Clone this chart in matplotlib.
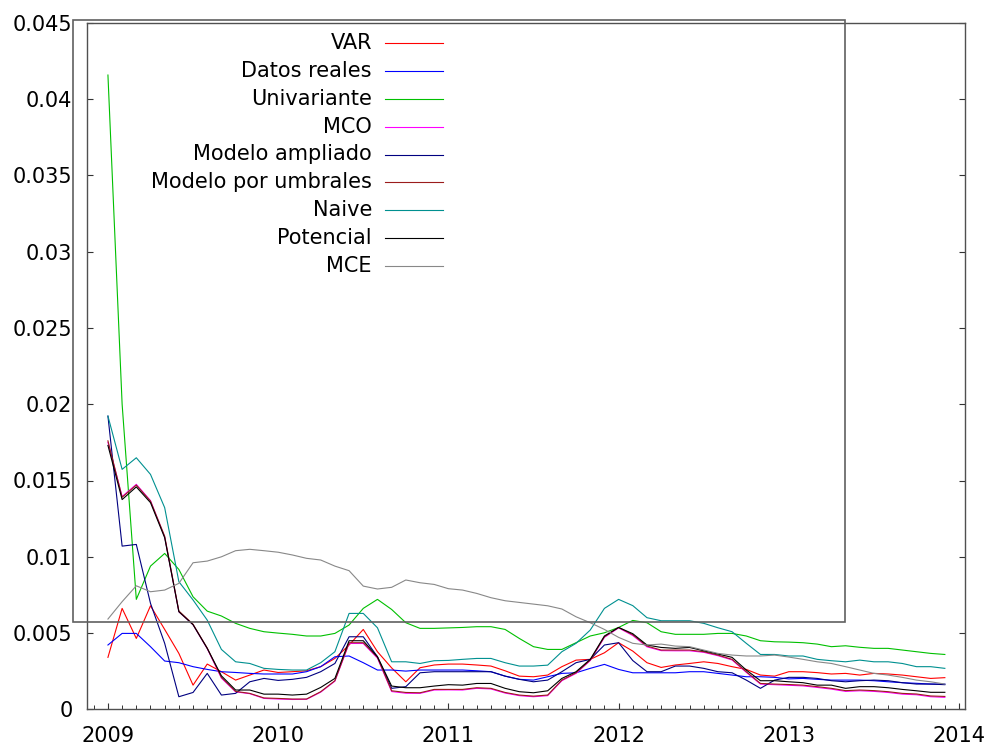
import matplotlib
matplotlib.use("Agg")
import matplotlib.pyplot as plt
from matplotlib.lines import Line2D
from matplotlib.patches import Rectangle
from matplotlib.ticker import FixedLocator, MultipleLocator
import numpy as np

# monthly series, Jan 2009 .. Dec 2013
var = [0.00341, 0.00662, 0.00465, 0.00679, 0.00524, 0.00367, 0.00159, 0.00297, 0.00247, 0.00192,
       0.00225, 0.00258, 0.00242, 0.00247, 0.00253, 0.00280, 0.00334, 0.00422, 0.00524, 0.00378,
       0.00272, 0.00181, 0.00273, 0.00291, 0.00297, 0.00297, 0.00291, 0.00284, 0.00253, 0.00218,
       0.00214, 0.00225, 0.00280, 0.00323, 0.00328, 0.00371, 0.00437, 0.00382, 0.00306, 0.00275,
       0.00291, 0.00301, 0.00312, 0.00301, 0.00280, 0.00262, 0.00225, 0.00218, 0.00247, 0.00247,
       0.00241, 0.00232, 0.00236, 0.00225, 0.00236, 0.00232, 0.00225, 0.00214, 0.00203, 0.00208]
datos_reales = [0.00422, 0.00498, 0.00498, 0.00411, 0.00317, 0.00306, 0.00280, 0.00262, 0.00247, 0.00242,
                0.00236, 0.00232, 0.00232, 0.00232, 0.00247, 0.00280, 0.00345, 0.00350, 0.00306, 0.00258,
                0.00258, 0.00251, 0.00258, 0.00258, 0.00258, 0.00258, 0.00253, 0.00247, 0.00218, 0.00197,
                0.00192, 0.00214, 0.00236, 0.00240, 0.00269, 0.00295, 0.00262, 0.00240, 0.00240, 0.00240,
                0.00240, 0.00247, 0.00247, 0.00236, 0.00225, 0.00214, 0.00214, 0.00210, 0.00200, 0.00203,
                0.00197, 0.00192, 0.00192, 0.00192, 0.00188, 0.00181, 0.00175, 0.00171, 0.00166, 0.00166]
univariante = [0.04157, 0.02000, 0.00721, 0.00939, 0.01022, 0.00917, 0.00738, 0.00644, 0.00612, 0.00564,
               0.00531, 0.00509, 0.00500, 0.00492, 0.00481, 0.00481, 0.00498, 0.00553, 0.00662, 0.00721,
               0.00655, 0.00568, 0.00531, 0.00531, 0.00534, 0.00537, 0.00542, 0.00542, 0.00524, 0.00465,
               0.00411, 0.00393, 0.00393, 0.00437, 0.00481, 0.00502, 0.00537, 0.00583, 0.00568, 0.00509,
               0.00492, 0.00492, 0.00492, 0.00498, 0.00498, 0.00481, 0.00450, 0.00443, 0.00441, 0.00437,
               0.00428, 0.00411, 0.00417, 0.00407, 0.00400, 0.00400, 0.00389, 0.00378, 0.00367, 0.00360]
mco = [0.01750, 0.01395, 0.01475, 0.01368, 0.01130, 0.00640, 0.00555, 0.00398, 0.00205, 0.00115,
       0.00103, 0.00072, 0.00068, 0.00065, 0.00066, 0.00113, 0.00185, 0.00432, 0.00432, 0.00336,
       0.00117, 0.00106, 0.00105, 0.00127, 0.00128, 0.00127, 0.00138, 0.00134, 0.00107, 0.00090,
       0.00083, 0.00090, 0.00188, 0.00236, 0.00320, 0.00472, 0.00534, 0.00484, 0.00410, 0.00385,
       0.00384, 0.00384, 0.00374, 0.00352, 0.00324, 0.00243, 0.00166, 0.00162, 0.00158, 0.00154,
       0.00144, 0.00133, 0.00118, 0.00122, 0.00118, 0.00111, 0.00100, 0.00096, 0.00083, 0.00079]
ampliado = [0.01922, 0.01070, 0.01081, 0.00695, 0.00433, 0.00083, 0.00111, 0.00236, 0.00094, 0.00105,
            0.00181, 0.00203, 0.00190, 0.00197, 0.00210, 0.00247, 0.00301, 0.00476, 0.00476, 0.00345,
            0.00138, 0.00149, 0.00240, 0.00247, 0.00247, 0.00247, 0.00247, 0.00247, 0.00218, 0.00197,
            0.00181, 0.00192, 0.00247, 0.00306, 0.00328, 0.00422, 0.00437, 0.00320, 0.00247, 0.00247,
            0.00284, 0.00284, 0.00269, 0.00247, 0.00240, 0.00192, 0.00138, 0.00192, 0.00210, 0.00210,
            0.00203, 0.00188, 0.00181, 0.00188, 0.00192, 0.00188, 0.00175, 0.00166, 0.00166, 0.00162]
umbrales = [0.01760, 0.01390, 0.01470, 0.01365, 0.01135, 0.00645, 0.00558, 0.00402, 0.00210, 0.00118,
            0.00105, 0.00075, 0.00072, 0.00068, 0.00068, 0.00116, 0.00188, 0.00437, 0.00437, 0.00341,
            0.00122, 0.00111, 0.00109, 0.00131, 0.00131, 0.00131, 0.00142, 0.00138, 0.00111, 0.00094,
            0.00087, 0.00094, 0.00192, 0.00240, 0.00323, 0.00476, 0.00537, 0.00489, 0.00415, 0.00389,
            0.00389, 0.00389, 0.00378, 0.00356, 0.00328, 0.00247, 0.00170, 0.00166, 0.00163, 0.00159,
            0.00149, 0.00138, 0.00123, 0.00127, 0.00123, 0.00116, 0.00105, 0.00101, 0.00088, 0.00085]
naive = [0.01922, 0.01573, 0.01649, 0.01540, 0.01322, 0.00837, 0.00717, 0.00585, 0.00393, 0.00312,
         0.00301, 0.00269, 0.00262, 0.00258, 0.00258, 0.00306, 0.00378, 0.00629, 0.00629, 0.00535,
         0.00312, 0.00312, 0.00301, 0.00319, 0.00321, 0.00328, 0.00334, 0.00334, 0.00306, 0.00284,
         0.00284, 0.00290, 0.00378, 0.00433, 0.00520, 0.00662, 0.00721, 0.00680, 0.00601, 0.00581,
         0.00581, 0.00581, 0.00564, 0.00535, 0.00509, 0.00433, 0.00360, 0.00360, 0.00350, 0.00350,
         0.00328, 0.00319, 0.00312, 0.00323, 0.00312, 0.00312, 0.00301, 0.00280, 0.00280, 0.00269]
potencial = [0.01730, 0.01375, 0.01458, 0.01355, 0.01125, 0.00640, 0.00555, 0.00400, 0.00220, 0.00127,
             0.00127, 0.00100, 0.00100, 0.00094, 0.00100, 0.00144, 0.00203, 0.00450, 0.00450, 0.00345,
             0.00153, 0.00142, 0.00142, 0.00153, 0.00162, 0.00159, 0.00170, 0.00170, 0.00138, 0.00116,
             0.00109, 0.00122, 0.00203, 0.00247, 0.00328, 0.00481, 0.00537, 0.00496, 0.00422, 0.00406,
             0.00400, 0.00406, 0.00384, 0.00363, 0.00341, 0.00258, 0.00188, 0.00188, 0.00181, 0.00175,
             0.00159, 0.00159, 0.00138, 0.00149, 0.00149, 0.00142, 0.00131, 0.00122, 0.00112, 0.00112]
mce = [0.00592, 0.00706, 0.00810, 0.00771, 0.00782, 0.00826, 0.00961, 0.00972, 0.01000, 0.01040,
       0.01049, 0.01040, 0.01030, 0.01012, 0.00990, 0.00979, 0.00939, 0.00909, 0.00808, 0.00789,
       0.00800, 0.00848, 0.00830, 0.00819, 0.00791, 0.00782, 0.00760, 0.00732, 0.00712, 0.00701,
       0.00690, 0.00679, 0.00658, 0.00607, 0.00568, 0.00524, 0.00472, 0.00433, 0.00422, 0.00428,
       0.00415, 0.00411, 0.00389, 0.00367, 0.00356, 0.00350, 0.00350, 0.00356, 0.00343, 0.00328,
       0.00312, 0.00301, 0.00280, 0.00258, 0.00236, 0.00225, 0.00210, 0.00192, 0.00181, 0.00166]

series = [("VAR", var, "#ff0000"),
          ("Datos reales", datos_reales, "#0000ff"),
          ("Univariante", univariante, "#00c000"),
          ("MCO", mco, "#ff00ff"),
          ("Modelo ampliado", ampliado, "#000080"),
          ("Modelo por umbrales", umbrales, "#9b1c1c"),
          ("Naive", naive, "#009090"),
          ("Potencial", potencial, "#000000"),
          ("MCE", mce, "#888888")]

start_year = 2009
year_ticks = [2009, 2010, 2011, 2012, 2013, 2014]
year_labels = ["2009", "2010", "2011", "2012", "2013", "2014"]
y_ticks = [0, 0.005, 0.01, 0.015, 0.02, 0.025, 0.03, 0.035, 0.04, 0.045]
y_labels = ["0", "0.005", "0.01", "0.015", "0.02", "0.025", "0.03", "0.035", "0.04", "0.045"]

W, H = 995, 748
fig = plt.figure(figsize=(W / 100, H / 100), dpi=100)
plt.rcParams["font.family"] = ["DejaVu Sans"]

# axes placed in pixel units
left, right, top, bottom = 87, 965, 22.7, 709.4
ax = fig.add_axes([left / W, 1 - bottom / H, (right - left) / W, (bottom - top) / H])

t = start_year + np.arange(len(var)) / 12.0
for name, vals, col in series:
    ax.plot(t, vals, color=col, lw=0.8)

ax.set_xlim(2008.877, 2014.035)
ax.set_ylim(0, 0.045)
ax.xaxis.set_major_locator(FixedLocator(year_ticks))
ax.set_xticklabels(year_labels)
ax.xaxis.set_minor_locator(MultipleLocator(1 / 12.0))
ax.set_yticks(y_ticks)
ax.set_yticklabels(y_labels)

ax.tick_params(axis="x", which="major", direction="in", length=4.5, width=0.8,
               labelsize=15, pad=12, top=False, color="#333333")
ax.tick_params(axis="x", which="minor", direction="in", length=3, width=0.7,
               top=False, color="#333333")
ax.tick_params(axis="y", which="major", direction="in", length=4.5, width=0.8,
               labelsize=15, pad=10.5, right=True, color="#333333")
for s in ax.spines.values():
    s.set_color("#505050")
    s.set_linewidth(1.0)

# key box with text to the left of each sample
fig.add_artist(Rectangle((73 / W, 1 - 622 / H), (845 - 73) / W, (622 - 20) / H,
                         transform=fig.transFigure, fill=False,
                         edgecolor="#606060", lw=1.2))
for k, (name, vals, col) in enumerate(series):
    yk = 1 - (43.3 + 27.8 * k) / H
    fig.text(372 / W, yk, name, ha="right", va="center", fontsize=15)
    fig.add_artist(Line2D([385 / W, 443 / W], [yk, yk], transform=fig.transFigure,
                          color=col, lw=0.8))

fig.savefig("out.png", dpi=100)
